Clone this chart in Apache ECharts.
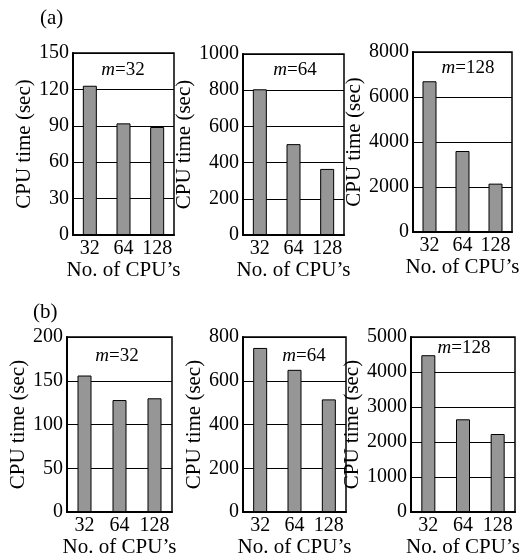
<!DOCTYPE html>
<html>
<head>
<meta charset="utf-8">
<script src="https://cdn.jsdelivr.net/npm/echarts@6/dist/echarts.min.js"></script>
<style>
html,body{margin:0;padding:0;background:#fff;}
#chart{width:526px;height:559px;}
</style>
</head>
<body>
<div id="chart"></div>
<script>
var categories = ['32', '64', '128'];
var panelLabels = ['m=32', 'm=64', 'm=128', 'm=32', 'm=64', 'm=128'];
var a32 = [123, 92, 89];
var a64 = [805, 502, 365];
var a128 = [6700, 3600, 2150];
var b32 = [156, 128, 130];
var b64 = [750, 650, 515];
var b128 = [4480, 2650, 2230];
var yMax = [150, 1000, 8000, 200, 800, 5000];
var yInterval = [30, 200, 2000, 50, 200, 1000];
var seriesData = [a32, a64, a128, b32, b64, b128];
var xName = 'No. of CPU\u2019s';
var yName = 'CPU time (sec)';

var FONT = '"Liberation Serif", "Times New Roman", serif';
var grids = [
  {left: 73, top: 53, width: 101, height: 182},
  {left: 243, top: 54, width: 101, height: 181},
  {left: 413, top: 52, width: 99, height: 180},
  {left: 67, top: 337, width: 105, height: 178},
  {left: 243, top: 337, width: 103, height: 178},
  {left: 411, top: 337, width: 104, height: 177}
];
var labelPos = [[123, 70], [295, 70], [468, 68], [117, 356], [304, 356], [464, 348]];

var option = {
  animation: false,
  backgroundColor: '#fff',
  grid: grids.map(function (g) {
    return {left: g.left, top: g.top, width: g.width, height: g.height, show: true,
      borderColor: '#000', borderWidth: 1.5, backgroundColor: 'transparent', containLabel: false};
  }),
  xAxis: grids.map(function (g, i) {
    return {
      type: 'category', gridIndex: i, data: categories,
      name: xName, nameLocation: 'middle', nameGap: 22,
      nameTextStyle: {fontFamily: FONT, fontSize: 21, color: '#000'},
      axisLine: {lineStyle: {color: '#000', width: 2}},
      axisTick: {inside: true, length: 4, lineStyle: {color: '#000', width: 1.5}},
      axisLabel: {fontFamily: FONT, fontSize: 20, color: '#000', margin: 4, interval: 0}
    };
  }),
  yAxis: grids.map(function (g, i) {
    return {
      type: 'value', gridIndex: i, min: 0, max: yMax[i], interval: yInterval[i],
      name: yName, nameLocation: 'middle', nameGap: 37,
      nameTextStyle: {fontFamily: FONT, fontSize: 21, color: '#000'},
      axisLine: {show: true, lineStyle: {color: '#000', width: 2}},
      axisTick: {show: false},
      splitLine: {show: true, lineStyle: {color: '#000', width: 1.2}},
      axisLabel: {fontFamily: FONT, fontSize: 20, color: '#000', margin: 4,
        formatter: function (v) { return String(v); }}
    };
  }),
  series: seriesData.map(function (d, i) {
    return {
      type: 'bar', xAxisIndex: i, yAxisIndex: i, data: d, barWidth: 14,
      itemStyle: {color: '#969696', borderColor: '#000', borderWidth: 1}
    };
  }),
  graphic: [
    {type: 'text', left: 40, top: 8, style: {text: '(a)', font: '21px ' + FONT, fill: '#000'}},
    {type: 'text', left: 33, top: 302, style: {text: '(b)', font: '21px ' + FONT, fill: '#000'}}
  ].concat(panelLabels.map(function (t, i) {
    var num = t.split('=')[1];
    return {
      type: 'text', x: labelPos[i][0], y: labelPos[i][1], z: 100,
      style: {
        text: '{i|m}{n|=' + num + '}', align: 'center', verticalAlign: 'middle',
        rich: {
          i: {fontFamily: FONT, fontSize: 19, fontStyle: 'italic', fill: '#000'},
          n: {fontFamily: FONT, fontSize: 19, fill: '#000'}
        }
      }
    };
  }))
};
var chart = echarts.init(document.getElementById('chart'), null, {renderer: 'canvas'});
chart.setOption(option);
</script>
</body>
</html>
